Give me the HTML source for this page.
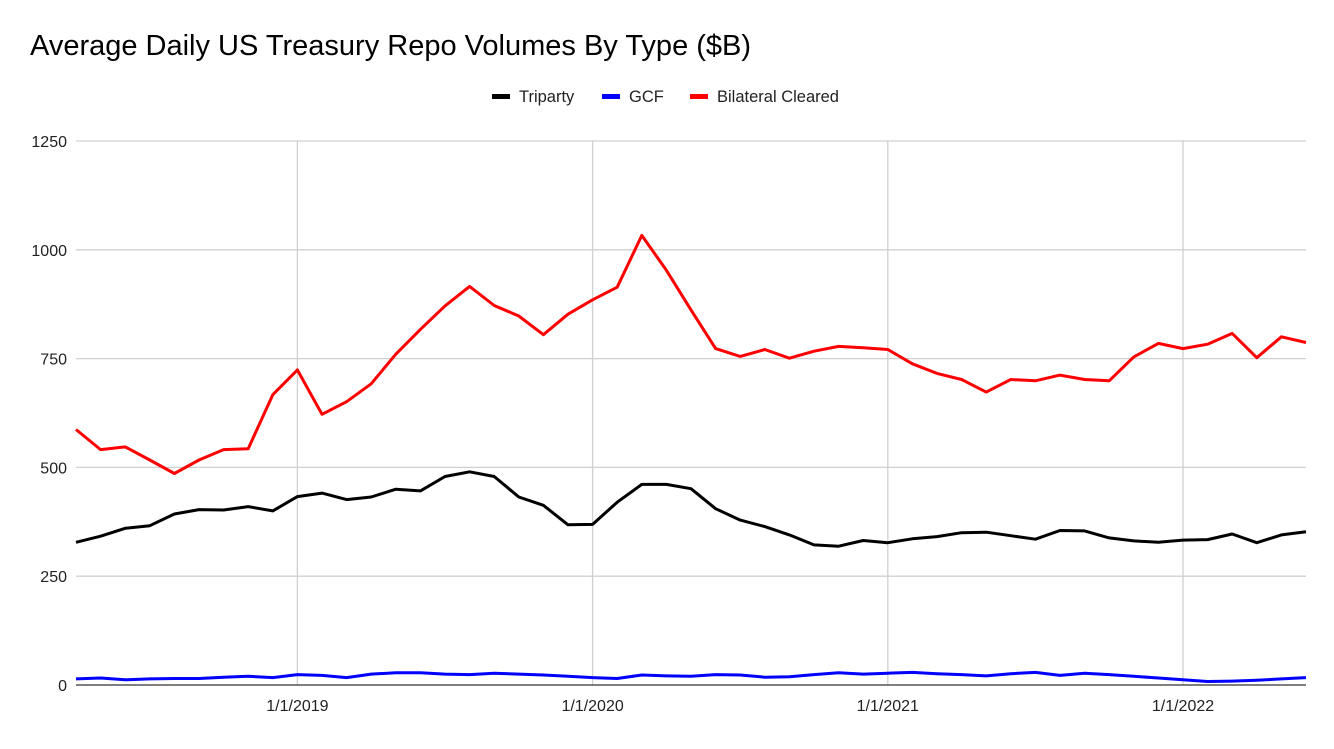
<!DOCTYPE html>
<html><head><meta charset="utf-8"><style>
body{margin:0;background:#fff;font-family:"Liberation Sans",Arial,sans-serif}
</style></head><body>
<svg id="chart" width="1334" height="744" xmlns="http://www.w3.org/2000/svg">
<text x="30" y="55" font-size="29" fill="#000">Average Daily US Treasury Repo Volumes By Type ($B)</text>
<g id="legend"></g>
<g id="grid"></g><g id="series"></g><g id="axes"></g>
</svg>
<script>
const triparty=[328,342,360,366,393,403,402,410,400,433,441,426,432,450,446,479,490,479,432,413,368,369,420,461,461,451,405,379,364,345,322,319,332,327,336,341,350,351,343,335,355,354,338,331,328,333,334,347,327,345,352];
const gcf=[14,16,12,14,15,15,18,20,17,24,22,17,25,28,28,25,24,27,25,23,20,17,15,23,21,20,24,23,18,19,24,28,25,27,29,26,24,21,26,29,22,27,24,20,16,12,8,9,11,14,17];
const bilateral=[587,541,547,517,486,517,541,543,667,724,622,651,692,760,817,871,916,872,848,805,852,885,914,1033,953,862,773,755,771,751,767,778,775,771,738,716,702,673,702,699,712,702,699,754,785,773,783,808,752,800,787];
const yTicks=[0,250,500,750,1000,1250];
const xTickLabels=["1/1/2019","1/1/2020","1/1/2021","1/1/2022"];
const xTickIndex=[9,21,33,45];
const seriesNames=["Triparty","GCF","Bilateral Cleared"];
const NS="http://www.w3.org/2000/svg";
const X0=76,X1=1306,Y0=685,Y1=141,YMAX=1250;
const n=bilateral.length;
const xs=i=>X0+(X1-X0)*i/(n-1);
const ys=v=>Y0-(Y0-Y1)*v/YMAX;
function mk(tag,attrs,parent){const e=document.createElementNS(NS,tag);for(const k in attrs)e.setAttribute(k,attrs[k]);parent.appendChild(e);return e;}
const grid=document.getElementById('grid'),axes=document.getElementById('axes'),ser=document.getElementById('series'),leg=document.getElementById('legend');
yTicks.forEach(t=>{
 if(t>0){const g=mk('line',{x1:X0,x2:X1,y1:ys(t),y2:ys(t),stroke:'#d0d0d0','stroke-width':1.3},grid);
 
 }
 const l=mk('text',{x:67,y:ys(t)+6,'text-anchor':'end','font-size':16,fill:'#222'},axes);
 l.textContent=t;
 
 
});
xTickIndex.forEach((idx,k)=>{
 const g=mk('line',{x1:xs(idx),x2:xs(idx),y1:Y1,y2:Y0,stroke:'#d0d0d0','stroke-width':1.3},grid);
 
 
 const l=mk('text',{x:xs(idx),y:711,'text-anchor':'middle','font-size':16,fill:'#222'},axes);
 l.textContent=xTickLabels[k];
 
 
});
const base=mk('line',{x1:X0,x2:X1,y1:Y0,y2:Y0,stroke:'#333','stroke-width':1.3},axes);


const data=[triparty,gcf,bilateral],colors=['#000','#0000ff','#ff0000'],names=['triparty-line','gcf-line','bilateral-cleared-line'];
data.forEach((d,s)=>{
 const p=mk('polyline',{points:d.map((v,i)=>xs(i).toFixed(1)+','+ys(v).toFixed(1)).join(' '),fill:'none',stroke:colors[s],'stroke-width':3,'stroke-linejoin':'round'},ser);
 
 
});
const legX=[492,602,690];
seriesNames.forEach((nm,s)=>{
 const g=mk('g',{},leg);
 
 
 mk('rect',{x:legX[s],y:94,width:18,height:5,fill:colors[s]},g);
 const t=mk('text',{x:legX[s]+27,y:102,'font-size':16.5,fill:'#222'},g);
 t.textContent=nm;
});
</script>
</body></html>
